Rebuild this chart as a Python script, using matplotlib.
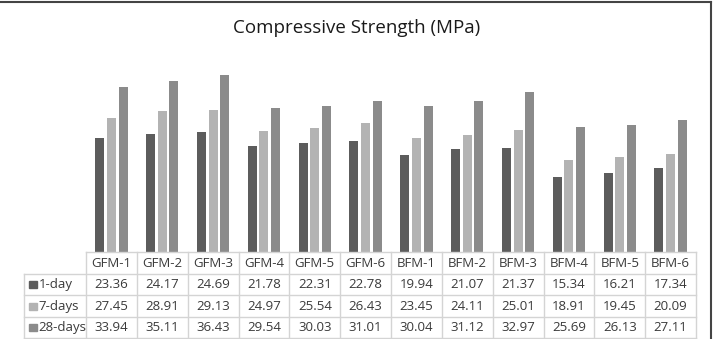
import matplotlib.pyplot as plt
import matplotlib as mpl
import numpy as np
from matplotlib.lines import Line2D

mpl.rcParams["font.family"] = ["Open Sans", "DejaVu Sans"]

# data
mixes = ["GFM-1", "GFM-2", "GFM-3", "GFM-4", "GFM-5", "GFM-6",
         "BFM-1", "BFM-2", "BFM-3", "BFM-4", "BFM-5", "BFM-6"]
day1 = [23.36, 24.17, 24.69, 21.78, 22.31, 22.78, 19.94, 21.07, 21.37, 15.34, 16.21, 17.34]
day7 = [27.45, 28.91, 29.13, 24.97, 25.54, 26.43, 23.45, 24.11, 25.01, 18.91, 19.45, 20.09]
day28 = [33.94, 35.11, 36.43, 29.54, 30.03, 31.01, 30.04, 31.12, 32.97, 25.69, 26.13, 27.11]
series_names = ["1-day", "7-days", "28-days"]
colors = ["#5c5c5c", "#b3b3b3", "#8b8b8b"]

W, H = 713, 339
fig = plt.figure(figsize=(W / 100, H / 100), dpi=100)

x0, x1 = 86, 696      # table / plot columns (pixels)
base = 252            # bar baseline
top = 57.4
label_left = 24
tab_bottom = 338

# chart area
ax = fig.add_axes([x0 / W, (H - base) / H, (x1 - x0) / W, (base - top) / H])
idx = np.arange(len(mixes)) + 0.5
bw = 0.177
pitch = 0.23
for k, vals in enumerate([day1, day7, day28]):
    ax.bar(idx + (k - 1) * pitch, vals, width=bw, color=colors[k], label=series_names[k])
ax.set_xlim(0, len(mixes))
ax.set_ylim(0, 40)
ax.axis("off")

fig.text(0.5, 1 - 28 / H, "Compressive Strength (MPa)", ha="center", va="center",
         fontsize=13.5, color="#1a1a1a")

# data table
lab_w = (x0 - label_left) / (x1 - x0) * len(mixes)
tax = fig.add_axes([label_left / W, (H - tab_bottom) / H,
                    (x1 - label_left) / W, (tab_bottom - base) / H])
tax.set_xlim(-lab_w, len(mixes))
tax.set_ylim(4, 0)
tax.axis("off")
lc = "#d4d4d4"
n = len(mixes)
tax.plot([0, n], [0, 0], color=lc, lw=1, clip_on=False)
for r in range(1, 5):
    tax.plot([-lab_w, n], [r, r], color=lc, lw=1, clip_on=False)
for c in range(n + 1):
    tax.plot([c, c], [0, 4], color=lc, lw=1, clip_on=False)
tax.plot([-lab_w, -lab_w], [1, 4], color=lc, lw=1, clip_on=False)

tcol = "#3a3a3a"
fs = 9.5
for c, name in enumerate(mixes):
    tax.text(c + 0.5, 0.52, name, ha="center", va="center", fontsize=fs, color=tcol)
for r, vals in enumerate([day1, day7, day28]):
    y = r + 1.52
    tax.add_patch(plt.Rectangle((-lab_w + 0.1, y - 0.17), 0.15, 0.33,
                                color=colors[r], clip_on=False))
    tax.text(-lab_w + 0.29, y, series_names[r], ha="left", va="center", fontsize=fs, color=tcol)
    for c, v in enumerate(vals):
        tax.text(c + 0.5, y, f"{v:.2f}", ha="center", va="center", fontsize=fs, color=tcol)

# outer frame
fig.add_artist(Line2D([0, 1 - 2 / W], [1 - 1.5 / H] * 2, color="#444444", lw=1.5,
                      transform=fig.transFigure))
fig.add_artist(Line2D([1 - 2 / W] * 2, [0, 1 - 1.5 / H], color="#444444", lw=1.5,
                      transform=fig.transFigure))

fig.savefig("out.png", dpi=100, facecolor="white")
